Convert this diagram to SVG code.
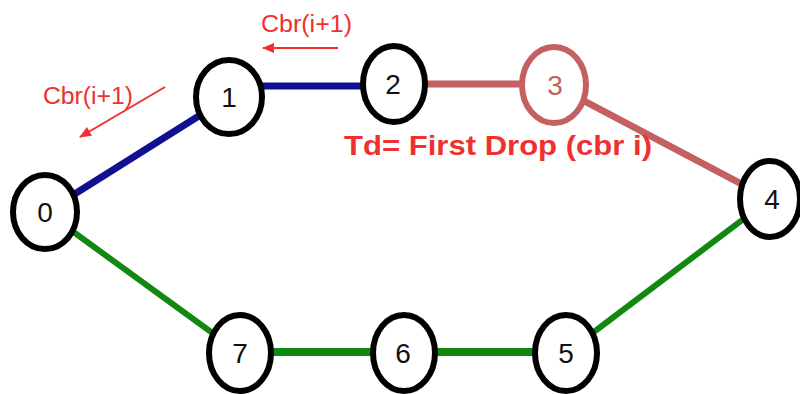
<svg xmlns="http://www.w3.org/2000/svg" width="800" height="394" viewBox="0 0 800 394">
<defs>
<style>
.node{fill:#fff;stroke:#000;stroke-width:6}
.lbl{font-family:"Liberation Sans",Arial,sans-serif;font-size:28px;fill:#111;text-anchor:middle}
.blue{stroke:#101090;stroke-width:7;fill:none}
.rose{stroke:#c46060;stroke-width:7;fill:none}
.green{stroke:#118811;stroke-width:6;fill:none}
.note{font-family:"Liberation Sans",Arial,sans-serif;fill:#f03030}
.arr{stroke:#f03030;stroke-width:2;fill:none}
</style>
<marker id="ah" viewBox="0 0 12 10" refX="11" refY="5" markerWidth="13" markerHeight="10" orient="auto" markerUnits="userSpaceOnUse">
<path d="M0,0 L12,5 L0,10 Z" fill="#f03030"/>
</marker>
</defs>
<rect width="800" height="394" fill="#fff"/>
<g id="connectors">
<line class="blue" x1="46" y1="212" x2="229" y2="97"/>
<line class="blue" x1="229" y1="86" x2="395" y2="86"/>
<line class="rose" x1="395" y1="84" x2="554" y2="84"/>
<line class="rose" x1="554" y1="85" x2="770" y2="199"/>
<line class="green" x1="770" y1="199" x2="566" y2="353"/>
<line class="green" x1="566" y1="352" x2="240" y2="352" style="stroke-width:8"/>
<line class="green" x1="46" y1="212" x2="240" y2="353"/>
<line class="arr" x1="338" y1="48" x2="263" y2="48" marker-end="url(#ah)"/>
<line class="arr" x1="165" y1="87" x2="80" y2="137" marker-end="url(#ah)"/>
</g>
<g id="node0"><ellipse class="node" cx="45" cy="212" rx="32" ry="37"/><text class="lbl" x="45" y="222">0</text></g>
<g id="node1"><ellipse class="node" cx="229" cy="97" rx="33" ry="37"/><text class="lbl" x="229" y="107">1</text></g>
<g id="node2"><ellipse class="node" cx="394" cy="84" rx="31" ry="38"/><text class="lbl" x="393" y="94">2</text></g>
<g id="node3"><ellipse class="node" cx="554" cy="85" rx="32" ry="38" style="stroke:#c46060"/><text class="lbl" x="555" y="95" style="fill:#c46060">3</text></g>
<g id="node4"><ellipse class="node" cx="770" cy="199" rx="30" ry="38"/><text class="lbl" x="772" y="209">4</text></g>
<g id="node5"><ellipse class="node" cx="566" cy="353" rx="31" ry="38"/><text class="lbl" x="566" y="363">5</text></g>
<g id="node6"><ellipse class="node" cx="404" cy="353" rx="31" ry="38"/><text class="lbl" x="403" y="363">6</text></g>
<g id="node7"><ellipse class="node" cx="240" cy="353" rx="31" ry="38"/><text class="lbl" x="240" y="363">7</text></g>
<g id="labels">
<text class="note" x="261" y="32" font-size="23" textLength="91" lengthAdjust="spacingAndGlyphs">Cbr(i+1)</text>
<text class="note" x="43" y="104" font-size="23" textLength="90" lengthAdjust="spacingAndGlyphs">Cbr(i+1)</text>
<text class="note" x="344" y="155" font-size="28" font-weight="bold" textLength="308" lengthAdjust="spacingAndGlyphs">Td= First Drop (cbr i)</text>
</g>
</svg>
